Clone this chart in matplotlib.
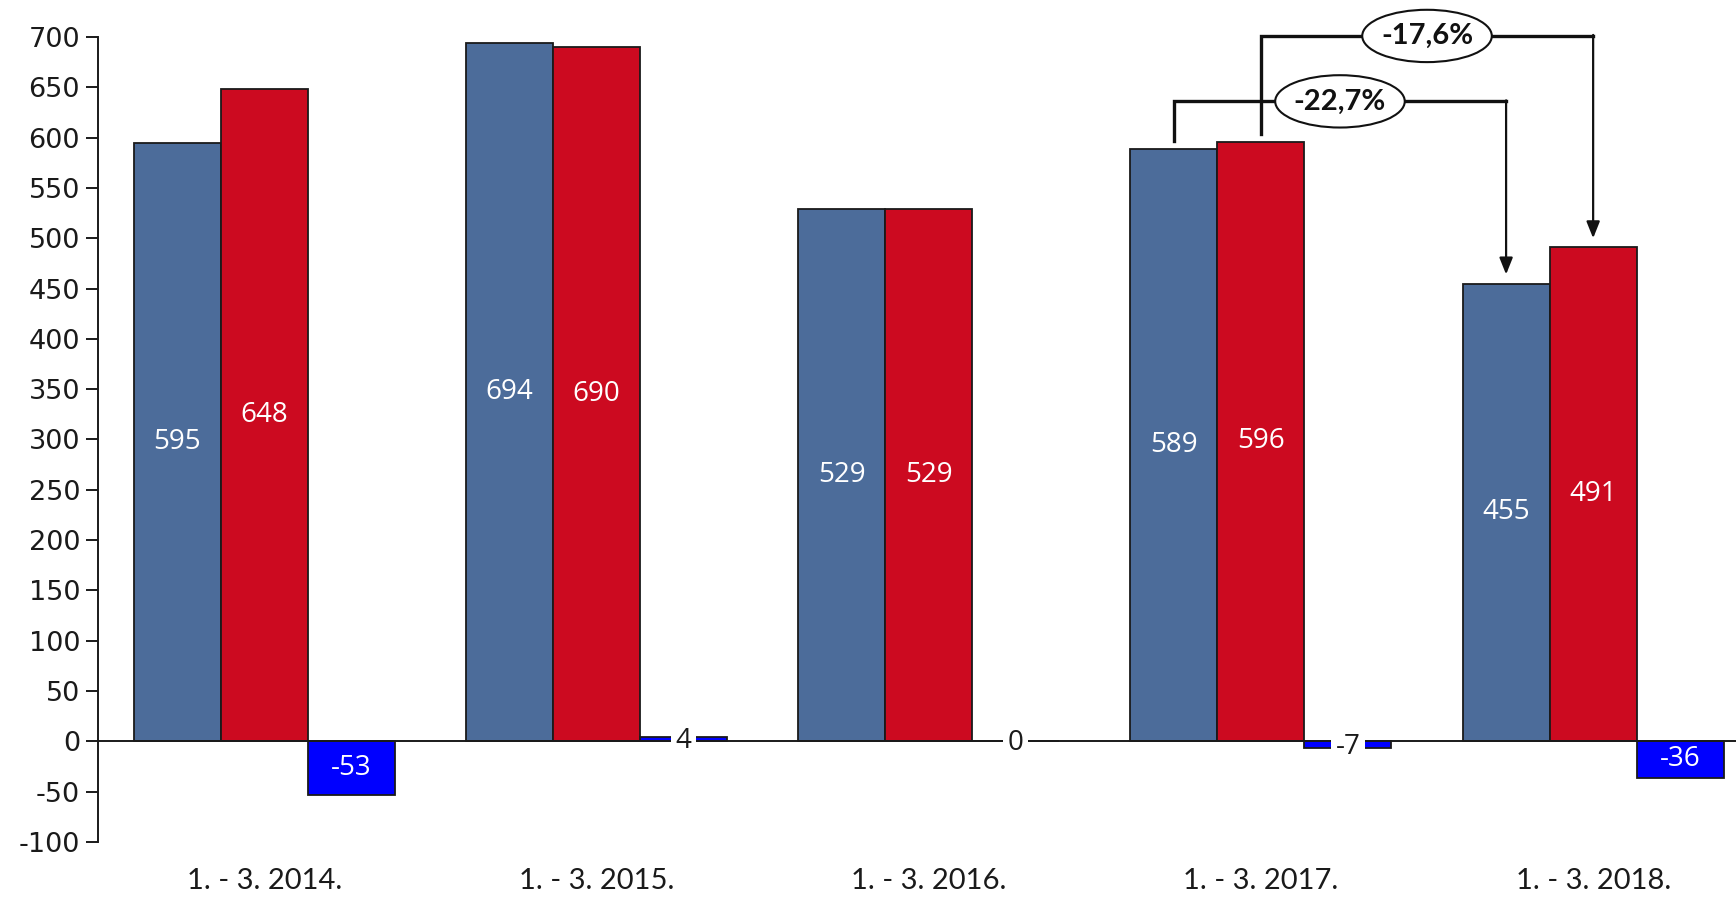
import numpy as np
import matplotlib
matplotlib.use("Agg")
import matplotlib.pyplot as plt
from matplotlib.patches import Ellipse

plt.rcParams['font.family'] = ['Open Sans', 'DejaVu Sans']
plt.rcParams['axes.unicode_minus'] = False

categories = ["1. - 3. 2014.", "1. - 3. 2015.", "1. - 3. 2016.", "1. - 3. 2017.", "1. - 3. 2018."]
first_vals = [595, 694, 529, 589, 455]
second_vals = [648, 690, 529, 596, 491]
diff_vals = [-53, 4, 0, -7, -36]

# change brackets: label, series (-1 = first, 0 = second), height of bracket line
change_labels = ["-22,7%", "-17,6%"]
change_series = [-1, 0]
change_levels = [636, 701]

C_FIRST = '#4C6C9A'
C_SECOND = '#CC0A20'
C_DIFF = '#0000FF'
W = 0.262


def draw_bracket(ax, label, series, level, firsts, seconds):
    vals = firsts if series == -1 else seconds
    x0 = 3 + series * W
    x1 = 4 + series * W
    y0 = vals[3] + 8
    y1 = vals[4] + 9
    ax.plot([x0, x0, x1], [y0, level, level], color='#111111', lw=2.4,
            solid_joinstyle='miter', clip_on=False, zorder=5)
    ax.annotate("", xy=(x1, y1), xytext=(x1, level + 1),
                arrowprops=dict(arrowstyle='-|>,head_length=1.0,head_width=0.4',
                                color='#111111', lw=1.6, shrinkA=0, shrinkB=0),
                annotation_clip=False, zorder=5)
    xc = (x0 + x1) / 2
    ax.add_patch(Ellipse((xc, level), 0.39, 52, facecolor='white', edgecolor='#111111',
                         lw=1.5, clip_on=False, zorder=6))
    ax.text(xc, level, label, ha='center', va='center', fontsize=21, fontweight='bold',
            family=['Lato', 'DejaVu Sans'], color='#111111', zorder=7)


def main():
    fig = plt.figure(figsize=(17.36, 8.97), dpi=100)
    ax = fig.add_axes([0.0565, 0.0613, 0.9435, 0.8975])
    x = np.arange(len(categories))

    ax.bar(x - W, first_vals, W, color=C_FIRST, edgecolor='#1a1a1a', lw=1.3, zorder=2)
    ax.bar(x, second_vals, W, color=C_SECOND, edgecolor='#1a1a1a', lw=1.3, zorder=2)
    ax.bar(x + W, diff_vals, W, color=C_DIFF, edgecolor='#1a1a1a', lw=1.3, zorder=2)

    for xi, v in zip(x - W, first_vals):
        ax.text(xi, v / 2, str(v), ha='center', va='center', color='white', fontsize=20, zorder=4)
    for xi, v in zip(x, second_vals):
        ax.text(xi, v / 2, str(v), ha='center', va='center', color='white', fontsize=20, zorder=4)
    for xi, v in zip(x + W, diff_vals):
        if abs(v) >= 20:
            ax.text(xi, v / 2, str(v), ha='center', va='center', color='white', fontsize=20, zorder=4)
        else:
            ax.text(xi, v / 2 - 2, str(v), ha='center', va='center', color='#1a1a1a', fontsize=20,
                    zorder=4, bbox=dict(facecolor='white', edgecolor='none', pad=3.5))

    ax.axhline(0, color='#1a1a1a', lw=1.4, zorder=3)

    for lab, s, lev in zip(change_labels, change_series, change_levels):
        draw_bracket(ax, lab, s, lev, first_vals, second_vals)

    ax.set_xlim(-0.5, 4.43)
    ax.set_ylim(-100, 700)
    ax.set_yticks(np.arange(-100, 701, 50))
    ax.tick_params(axis='y', labelsize=19.5, length=9, width=1.4, colors='#1a1a1a', pad=4)
    for t in ax.get_yticklabels():
        t.set_family(['DejaVu Sans'])
    ax.set_xticks(x)
    ax.set_xticklabels(categories, fontsize=21, family=['Lato', 'DejaVu Sans'], color='#1a1a1a')
    ax.tick_params(axis='x', length=0, pad=19)
    for s in ['top', 'right', 'bottom']:
        ax.spines[s].set_visible(False)
    ax.spines['left'].set_linewidth(1.4)
    ax.spines['left'].set_color('#1a1a1a')

    fig.savefig("out.png", dpi=100)


if __name__ == "__main__":
    main()
